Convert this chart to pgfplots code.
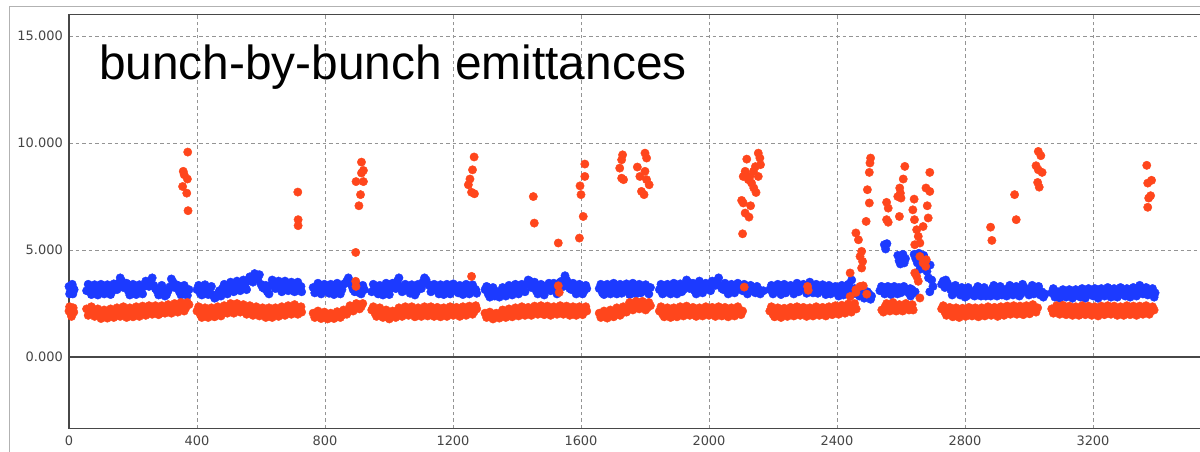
\documentclass[border=0pt]{standalone}
\usepackage{pgfplots}
\pgfplotsset{compat=1.18}
\usepackage{fontspec}
\setmainfont{DejaVu Sans}
\newfontfamily\titlefont{Liberation Sans}
\definecolor{bunchblue}{RGB}{28,58,255}
\definecolor{bunchred}{RGB}{255,70,28}
\definecolor{ticktext}{RGB}{68,68,68}
\definecolor{framegray}{RGB}{178,178,178}
\begin{document}
\begin{tikzpicture}
\begin{axis}[
  name=main,
  at={(0,0)}, anchor=south west,
  scale only axis,
  width=1139.2bp, height=413.6bp,
  xmin=0, xmax=3560, ymin=-3.33, ymax=16.0,
  axis line style={draw=black!72, line width=1.3bp},
  major tick length=0pt,
  xtick={0,400,800,1200,1600,2000,2400,2800,3200},
  xticklabels={0,400,800,1200,1600,2000,2400,2800,3200},
  ytick={5,10,15},
  yticklabels={5.000,10.000,15.000},
  extra y ticks={0},
  extra y tick labels={0.000},
  extra y tick style={grid=major, major grid style={solid, draw=black!72, line width=1.2bp}},
  grid=major,
  major grid style={draw=black!42, line width=0.9bp, dash pattern=on 3.5bp off 3bp},
  ticklabel style={font=\fontsize{13}{13}\selectfont, text=ticktext},
  xticklabel style={yshift=-4bp},
  yticklabel style={xshift=-2.7bp},
  every axis plot/.append style={only marks, mark=*, mark size=4.2bp},
]
% vertical emittance, bunch by bunch
\addplot[mark options={draw=bunchblue, fill=bunchblue}] coordinates {
(0,3.30) (4,3.05) (8,3.25) (12,2.95) (16,3.15) (2,2.95) (10,3.40) (14,3.20)
(55,3.10) (65,3.25) (75,2.98) (85,3.20) (95,3.05) (105,3.28) (115,3.00) (125,3.22) (135,3.08) (145,3.30)
(155,3.45) (165,3.55) (175,3.30) (185,3.10) (195,3.25) (205,2.98) (215,3.18) (225,3.05) (235,3.30) (245,3.45)
(255,3.55) (265,3.35) (275,3.10) (285,2.95) (295,3.15) (305,2.92) (315,3.28) (325,3.50) (335,3.38) (345,3.05)
(355,3.20) (365,2.95) (375,3.15)
(60,3.40) (70,2.92) (80,3.38) (90,2.90) (100,3.40) (110,2.95) (120,3.38) (130,2.92) (140,3.42) (150,3.15)
(160,3.70) (170,3.25) (180,3.45) (190,2.90) (200,3.40) (210,2.92) (220,3.38) (230,2.95) (240,3.55) (250,3.30)
(260,3.70) (270,3.20) (280,2.90) (290,3.35) (300,2.85) (310,3.10) (320,3.65) (330,3.25) (340,3.35) (350,2.90)
(360,3.35) (370,2.88)
(400,3.15) (410,2.98) (420,3.20) (430,3.05) (440,3.18) (450,2.90) (460,2.80) (470,3.10) (480,3.22) (490,3.08)
(500,3.30) (510,3.15) (520,3.38) (530,3.22) (540,3.45) (550,3.30) (560,3.55) (570,3.70) (580,3.90) (590,3.65)
(600,3.40) (610,3.20) (620,3.05) (630,3.35) (640,3.50) (650,3.25) (660,3.40) (670,3.15) (680,3.45) (690,3.30)
(700,3.10) (710,3.35) (720,3.20) (727,3.05)
(405,3.35) (415,2.90) (425,3.38) (435,2.92) (445,3.30) (455,2.75) (465,2.95) (475,2.85) (485,3.40) (495,2.95)
(505,3.50) (515,3.05) (525,3.55) (535,3.10) (545,3.60) (555,3.15) (565,3.75) (575,3.50) (585,3.75) (595,3.85)
(605,3.25) (615,3.35) (625,2.95) (635,3.60) (645,3.20) (655,3.55) (665,3.05) (675,3.55) (685,3.10) (695,3.50)
(705,3.05) (715,3.50) (725,3.30)
(763,3.25) (773,3.05) (783,3.30) (793,3.10) (803,3.20) (813,2.98) (823,3.25) (833,3.05) (843,3.30) (853,3.15)
(863,3.45) (873,3.70) (883,3.35) (893,3.05) (903,3.25) (913,2.95) (923,3.15)
(768,3.00) (778,3.45) (788,2.95) (798,3.40) (808,3.05) (818,3.40) (828,2.92) (838,3.45) (848,2.95) (858,3.40)
(868,3.55) (878,3.50) (888,3.15) (898,3.40) (908,3.00) (918,3.35)
(946,3.05) (956,3.25) (966,2.95) (976,3.15) (986,3.30) (996,3.05) (1006,3.20) (1016,3.35) (1026,3.55) (1036,3.30)
(1046,3.10) (1056,3.25) (1066,2.98) (1076,3.20) (1086,3.05) (1096,3.30) (1106,3.50) (1116,3.60) (1126,3.35) (1136,3.15)
(1146,3.25) (1156,2.95) (1166,3.20) (1176,3.05) (1186,3.30) (1196,3.10) (1206,3.25) (1216,3.00) (1226,3.20) (1236,3.05)
(1246,3.28) (1256,3.10) (1266,3.20) (1274,2.98)
(951,3.40) (961,3.05) (971,3.35) (981,2.90) (991,3.45) (1001,2.92) (1011,3.45) (1021,3.20) (1031,3.70) (1041,3.05)
(1051,3.40) (1061,3.15) (1071,3.38) (1081,2.90) (1091,3.40) (1101,3.20) (1111,3.70) (1121,3.40) (1131,3.05) (1141,3.40)
(1151,3.10) (1161,3.38) (1171,2.92) (1181,3.40) (1191,2.95) (1201,3.42) (1211,3.10) (1221,3.35) (1231,2.92) (1241,3.40)
(1251,2.95) (1261,3.38) (1271,3.15)
(1300,3.15) (1310,2.95) (1320,3.10) (1330,2.85) (1340,3.05) (1350,2.90) (1360,3.15) (1370,2.98) (1380,3.20) (1390,3.05)
(1400,3.30) (1410,3.10) (1420,3.25) (1430,3.40) (1440,3.55) (1450,3.35) (1460,3.10) (1470,3.25) (1480,3.00) (1490,3.20)
(1500,3.45) (1510,3.30) (1520,3.10) (1530,3.35) (1540,3.55) (1550,3.80) (1560,3.45) (1570,3.15) (1580,3.30) (1590,3.05)
(1600,3.25) (1610,3.10) (1618,3.20)
(1305,3.30) (1315,2.80) (1325,3.25) (1335,3.00) (1345,2.80) (1355,3.25) (1365,2.85) (1375,3.35) (1385,2.90) (1395,3.40)
(1405,2.95) (1415,3.40) (1425,3.05) (1435,3.60) (1445,3.25) (1455,3.50) (1465,2.95) (1475,3.40) (1485,2.90) (1495,3.35)
(1505,3.10) (1515,3.45) (1525,2.95) (1535,3.50) (1545,3.30) (1555,3.60) (1565,3.20) (1575,3.45) (1585,2.95) (1595,3.40)
(1605,2.95) (1615,3.35)
(1657,3.20) (1667,3.00) (1677,3.25) (1687,3.05) (1697,3.30) (1707,3.10) (1717,3.20) (1727,2.98) (1737,3.25) (1747,3.05)
(1757,3.30) (1767,3.10) (1777,3.25) (1787,3.00) (1797,3.20) (1807,3.05) (1817,3.25)
(1662,3.40) (1672,2.92) (1682,3.40) (1692,2.95) (1702,3.45) (1712,2.95) (1722,3.40) (1732,3.15) (1742,3.42) (1752,2.92)
(1762,3.45) (1772,2.95) (1782,3.40) (1792,3.15) (1802,3.38) (1812,2.95)
(1845,3.15) (1855,2.95) (1865,3.20) (1875,3.05) (1885,3.30) (1895,3.10) (1905,3.25) (1915,3.05) (1925,3.35) (1935,3.50)
(1945,3.30) (1955,3.10) (1965,3.25) (1975,3.40) (1985,3.15) (1995,3.30) (2005,3.10) (2015,3.40) (2025,3.55) (2035,3.35)
(2045,3.15) (2055,3.30) (2065,3.05) (2075,3.25) (2085,3.15) (2095,3.35) (2105,3.10) (2115,3.25) (2125,3.05) (2135,3.20)
(2145,3.00) (2155,3.15) (2165,3.05) (2170,3.10)
(1850,3.40) (1860,3.00) (1870,3.40) (1880,2.95) (1890,3.45) (1900,2.95) (1910,3.42) (1920,3.15) (1930,3.60) (1940,3.20)
(1950,3.45) (1960,2.95) (1970,3.55) (1980,3.00) (1990,3.45) (2000,3.20) (2010,3.55) (2020,3.35) (2030,3.70) (2040,3.20)
(2050,3.45) (2060,2.95) (2070,3.40) (2080,3.00) (2090,3.45) (2100,3.20) (2110,3.40) (2120,2.95) (2130,3.35) (2140,3.15)
(2150,3.30) (2160,2.95)
(2190,3.15) (2200,2.95) (2210,3.20) (2220,3.05) (2230,3.25) (2240,3.00) (2250,3.20) (2260,3.10) (2270,3.30) (2280,3.05)
(2290,3.25) (2300,3.15) (2310,3.35) (2320,3.10) (2330,3.20) (2340,2.98) (2350,3.25) (2360,3.05) (2370,3.20) (2380,2.95)
(2390,3.15) (2400,3.00) (2410,3.20) (2420,2.90) (2430,3.10) (2440,3.25) (2446,3.60) (2450,2.95) (2460,3.10) (2470,2.85)
(2480,3.00) (2490,2.80) (2500,2.95) (2508,2.85)
(2195,3.35) (2205,3.05) (2215,3.40) (2225,2.92) (2235,3.40) (2245,3.15) (2255,3.35) (2265,2.95) (2275,3.45) (2285,3.20)
(2295,3.40) (2305,2.98) (2315,3.50) (2325,3.00) (2335,3.40) (2345,3.15) (2355,3.38) (2365,2.92) (2375,3.35) (2385,3.10)
(2395,3.30) (2405,2.85) (2415,3.35) (2425,3.05) (2435,3.40) (2455,3.20) (2465,2.95) (2475,3.10) (2485,2.75) (2495,3.05)
(2505,2.70)
(2534,3.10) (2544,3.25) (2554,3.00) (2564,3.20) (2574,3.05) (2584,3.15) (2594,3.25) (2604,3.05) (2614,3.20) (2624,3.00)
(2630,2.85) (2634,3.15) (2640,3.00) (2644,3.05) (2690,3.05) (2700,3.30)
(2539,3.30) (2549,2.95) (2559,3.30) (2569,2.92) (2579,3.30) (2589,2.95) (2599,3.00) (2609,3.30) (2619,3.10) (2629,3.20)
(2548,5.25) (2552,5.05) (2556,5.30)
(2590,4.75) (2594,4.50) (2598,4.35) (2602,4.65) (2606,4.80) (2610,4.40) (2614,4.60)
(2641,4.80) (2646,4.60) (2651,4.40) (2656,4.85) (2659,4.10) (2661,4.55) (2666,4.20) (2671,4.75) (2676,4.45) (2681,4.00)
(2686,3.70) (2691,4.30) (2696,3.60)
(2727,3.40) (2732,3.55) (2737,3.25) (2745,3.45) (2755,3.15) (2765,3.00) (2775,3.20) (2785,2.90) (2795,3.10) (2805,2.85)
(2815,3.05) (2825,2.90) (2835,3.15) (2845,2.95) (2855,3.10) (2865,2.85) (2875,3.05) (2885,3.20) (2895,2.95) (2905,3.10)
(2915,2.90) (2925,3.15) (2935,2.95) (2945,3.20) (2955,3.00) (2965,3.15) (2975,2.95) (2985,3.25) (2995,3.05) (3005,3.20)
(3015,2.95) (3025,3.10) (3035,2.90) (3045,2.80) (3050,2.95)
(2740,3.60) (2750,3.30) (2760,2.90) (2770,3.35) (2780,3.05) (2790,3.25) (2800,2.80) (2810,3.25) (2820,3.05) (2830,2.85)
(2840,3.30) (2850,2.85) (2860,3.25) (2870,3.00) (2880,2.85) (2890,3.35) (2900,2.85) (2910,3.30) (2920,3.05) (2930,2.85)
(2940,3.35) (2950,2.90) (2960,3.30) (2970,2.85) (2980,3.40) (2990,3.10) (3000,2.90) (3010,3.35) (3020,3.00) (3030,3.30)
(3040,3.05)
(3071,3.00) (3081,2.80) (3091,3.05) (3101,2.85) (3111,3.00) (3121,2.90) (3131,3.05) (3141,2.85) (3151,3.00) (3161,2.80)
(3171,3.05) (3181,2.90) (3191,3.10) (3201,2.85) (3211,3.00) (3221,2.90) (3231,3.10) (3241,2.95) (3251,3.05) (3261,2.85)
(3271,3.10) (3281,2.95) (3291,3.05) (3301,2.85) (3311,3.00) (3321,2.90) (3331,3.15) (3341,2.95) (3351,3.20) (3361,3.05)
(3371,2.90) (3381,3.05) (3391,2.80) (3394,3.00)
(3076,3.20) (3086,2.95) (3096,2.75) (3106,3.15) (3116,2.80) (3126,3.15) (3136,2.75) (3146,3.15) (3156,2.85) (3166,3.20)
(3176,2.75) (3186,3.20) (3196,2.95) (3206,3.20) (3216,2.75) (3226,3.20) (3236,2.85) (3246,3.25) (3256,2.80) (3266,3.20)
(3276,2.80) (3286,3.25) (3296,2.90) (3306,3.20) (3316,2.80) (3326,3.25) (3336,2.85) (3346,3.35) (3356,2.95) (3366,3.25)
(3376,3.10) (3386,3.20)
};
% horizontal emittance, bunch by bunch
\addplot[mark options={draw=bunchred, fill=bunchred}] coordinates {
(0,2.15) (5,2.05) (10,2.20) (15,2.10) (2,2.35) (8,1.90) (13,2.30)
(55,2.25) (65,2.10) (75,2.20) (85,2.00) (95,2.10) (105,1.92) (115,2.05) (125,1.95) (135,2.10) (145,2.00)
(155,2.15) (165,2.05) (175,2.20) (185,1.98) (195,2.10) (205,2.00) (215,2.15) (225,2.05) (235,2.20) (245,2.10)
(255,2.25) (265,2.10) (275,2.20) (285,2.05) (295,2.25) (305,2.15) (315,2.30) (325,2.20) (335,2.35) (345,2.25)
(355,2.40) (365,2.30) (375,2.45)
(60,1.95) (70,2.35) (80,1.90) (90,2.25) (100,1.80) (110,2.20) (120,1.82) (130,2.25) (140,1.85) (150,2.30)
(160,1.90) (170,2.35) (180,1.85) (190,2.30) (200,1.88) (210,2.35) (220,1.90) (230,2.38) (240,1.95) (250,2.40)
(260,2.00) (270,2.40) (280,1.98) (290,2.40) (300,2.05) (310,2.45) (320,2.05) (330,2.50) (340,2.10) (350,2.55)
(360,2.15) (370,2.55)
(400,2.15) (410,2.00) (420,2.10) (430,1.95) (440,2.10) (450,2.00) (460,2.15) (470,2.05) (480,2.20) (490,2.10)
(500,2.30) (510,2.20) (520,2.35) (530,2.25) (540,2.30) (550,2.15) (560,2.25) (570,2.10) (580,2.20) (590,2.05)
(600,2.15) (610,2.00) (620,2.10) (630,1.98) (640,2.12) (650,2.05) (660,2.20) (670,2.08) (680,2.25) (690,2.15)
(700,2.30) (710,2.15) (720,2.25) (727,2.10)
(405,2.35) (415,1.85) (425,2.30) (435,1.85) (445,2.30) (455,1.88) (465,2.35) (475,1.92) (485,2.40) (495,2.05)
(505,2.50) (515,2.05) (525,2.50) (535,2.10) (545,2.45) (555,2.00) (565,2.40) (575,1.95) (585,2.35) (595,1.92)
(605,2.30) (615,1.85) (625,2.30) (635,1.85) (645,2.30) (655,1.90) (665,2.35) (675,1.95) (685,2.40) (695,2.00)
(705,2.45) (715,2.00) (725,2.35)
(763,2.05) (773,1.92) (783,2.05) (793,1.90) (803,2.00) (813,1.85) (823,1.98) (833,1.90) (843,2.05) (853,1.95)
(863,2.10) (873,2.20) (883,2.35) (893,2.25) (903,2.45) (913,2.35)
(768,1.85) (778,2.15) (788,1.80) (798,2.10) (808,1.78) (818,2.05) (828,1.80) (838,2.12) (848,1.85) (858,2.20)
(868,2.00) (878,2.40) (888,2.15) (898,2.50) (908,2.25) (918,2.50)
(946,2.20) (956,2.05) (966,2.15) (976,1.98) (986,2.05) (996,1.85) (1006,1.95) (1016,2.10) (1026,2.00) (1036,2.15)
(1046,2.05) (1056,2.20) (1066,2.10) (1076,2.15) (1086,2.00) (1096,2.10) (1106,2.02) (1116,2.18) (1126,2.08) (1136,2.20)
(1146,2.05) (1156,2.15) (1166,2.00) (1176,2.12) (1186,2.05) (1196,2.20) (1206,2.10) (1216,2.15) (1226,2.02) (1236,2.18)
(1246,2.10) (1256,2.20) (1266,2.12) (1274,2.25)
(951,2.35) (961,1.90) (971,2.30) (981,1.85) (991,2.20) (1001,1.78) (1011,2.15) (1021,1.85) (1031,2.30) (1041,1.90)
(1051,2.35) (1061,1.95) (1071,2.35) (1081,1.88) (1091,2.30) (1101,1.90) (1111,2.35) (1121,1.92) (1131,2.35) (1141,1.90)
(1151,2.32) (1161,1.88) (1171,2.30) (1181,1.90) (1191,2.35) (1201,1.95) (1211,2.32) (1221,1.90) (1231,2.35) (1241,1.95)
(1251,2.38) (1261,2.00) (1271,2.40)
(1300,2.05) (1310,1.90) (1320,2.00) (1330,1.85) (1340,1.98) (1350,2.05) (1360,1.95) (1370,2.10) (1380,2.00) (1390,2.15)
(1400,2.05) (1410,2.20) (1420,2.10) (1430,2.15) (1440,2.05) (1450,2.20) (1460,2.12) (1470,2.25) (1480,2.15) (1490,2.22)
(1500,2.10) (1510,2.20) (1520,2.12) (1530,2.25) (1540,2.15) (1550,2.22) (1560,2.10) (1570,2.20) (1580,2.08) (1590,2.18)
(1600,2.10) (1610,2.22) (1618,2.15)
(1305,1.85) (1315,2.10) (1325,1.78) (1335,2.05) (1345,1.82) (1355,2.20) (1365,1.85) (1375,2.25) (1385,1.88) (1395,2.30)
(1405,1.92) (1415,2.35) (1425,1.95) (1435,2.32) (1445,1.95) (1455,2.38) (1465,2.00) (1475,2.40) (1485,1.98) (1495,2.38)
(1505,1.95) (1515,2.35) (1525,2.00) (1535,2.40) (1545,2.00) (1555,2.38) (1565,1.95) (1575,2.35) (1585,1.95) (1595,2.35)
(1605,1.98) (1615,2.35)
(1657,2.05) (1667,1.92) (1677,2.05) (1687,1.95) (1697,2.10) (1707,2.00) (1717,2.15) (1727,2.05) (1737,2.20) (1747,2.30)
(1757,2.40) (1767,2.30) (1777,2.45) (1787,2.35) (1797,2.45) (1807,2.30) (1817,2.40)
(1662,1.85) (1672,2.15) (1682,1.82) (1692,2.20) (1702,1.88) (1712,2.30) (1722,1.95) (1732,2.35) (1742,2.10) (1752,2.55)
(1762,2.20) (1772,2.60) (1782,2.25) (1792,2.60) (1802,2.20) (1812,2.55)
(1845,2.15) (1855,2.00) (1865,2.10) (1875,1.95) (1885,2.10) (1895,2.00) (1905,2.18) (1915,2.05) (1925,2.20) (1935,2.10)
(1945,2.15) (1955,2.00) (1965,2.12) (1975,2.05) (1985,2.20) (1995,2.10) (2005,2.15) (2015,2.02) (2025,2.18) (2035,2.08)
(2045,2.15) (2055,2.00) (2065,2.12) (2075,2.05) (2085,2.20) (2095,2.10) (2105,2.15)
(1850,2.35) (1860,1.88) (1870,2.30) (1880,1.85) (1890,2.30) (1900,1.88) (1910,2.35) (1920,1.92) (1930,2.38) (1940,1.95)
(1950,2.32) (1960,1.90) (1970,2.30) (1980,1.92) (1990,2.35) (2000,1.95) (2010,2.32) (2020,1.90) (2030,2.35) (2040,1.92)
(2050,2.32) (2060,1.88) (2070,2.30) (2080,1.92) (2090,2.35) (2100,1.98)
(2190,2.15) (2200,2.00) (2210,2.10) (2220,1.95) (2230,2.10) (2240,2.02) (2250,2.15) (2260,2.05) (2270,2.20) (2280,2.08)
(2290,2.15) (2300,2.00) (2310,2.12) (2320,2.05) (2330,2.20) (2340,2.10) (2350,2.15) (2360,2.02) (2370,2.18) (2380,2.08)
(2390,2.20) (2400,2.10) (2410,2.25) (2420,2.15) (2430,2.30) (2440,2.20) (2450,2.35) (2460,2.25)
(2195,2.35) (2205,1.88) (2215,2.30) (2225,1.85) (2235,2.28) (2245,1.90) (2255,2.32) (2265,1.92) (2275,2.35) (2285,1.95)
(2295,2.32) (2305,1.90) (2315,2.30) (2325,1.92) (2335,2.35) (2345,1.95) (2355,2.32) (2365,1.92) (2375,2.35) (2385,1.98)
(2395,2.40) (2405,2.00) (2415,2.42) (2425,2.05) (2435,2.48) (2445,2.10) (2455,2.50)
(2540,2.20) (2550,2.35) (2560,2.25) (2570,2.40) (2580,2.30) (2590,2.20) (2600,2.35) (2610,2.25) (2620,2.40) (2630,2.30)
(2638,2.20)
(2545,2.10) (2555,2.50) (2565,2.15) (2575,2.55) (2585,2.15) (2595,2.45) (2605,2.15) (2615,2.50) (2625,2.20) (2635,2.45)
(2727,2.25) (2737,2.10) (2747,2.20) (2757,2.00) (2767,2.10) (2777,1.98) (2787,2.12) (2797,2.05) (2807,2.20) (2817,2.08)
(2827,2.15) (2837,2.00) (2847,2.12) (2857,2.05) (2867,2.20) (2877,2.10) (2887,2.15) (2897,2.02) (2907,2.18) (2917,2.08)
(2927,2.20) (2937,2.12) (2947,2.25) (2957,2.15) (2967,2.22) (2977,2.10) (2987,2.25) (2997,2.15) (3007,2.30) (3017,2.20)
(3027,2.30)
(2732,2.40) (2742,1.95) (2752,2.32) (2762,1.88) (2772,2.30) (2782,1.85) (2792,2.28) (2802,1.90) (2812,2.32) (2822,1.92)
(2832,2.30) (2842,1.88) (2852,2.30) (2862,1.92) (2872,2.35) (2882,1.95) (2892,2.32) (2902,1.90) (2912,2.35) (2922,1.95)
(2932,2.38) (2942,2.00) (2952,2.40) (2962,2.00) (2972,2.38) (2982,1.98) (2992,2.40) (3002,2.02) (3012,2.45) (3022,2.10)
(3071,2.25) (3081,2.10) (3091,2.30) (3101,2.15) (3111,2.25) (3121,2.10) (3131,2.20) (3141,2.05) (3151,2.20) (3161,2.10)
(3171,2.25) (3181,2.12) (3191,2.20) (3201,2.05) (3211,2.15) (3221,2.08) (3231,2.22) (3241,2.12) (3251,2.25) (3261,2.15)
(3271,2.20) (3281,2.05) (3291,2.18) (3301,2.10) (3311,2.25) (3321,2.12) (3331,2.20) (3341,2.08) (3351,2.22) (3361,2.12)
(3371,2.25) (3381,2.15) (3391,2.20)
(3076,2.05) (3086,2.40) (3096,2.00) (3106,2.42) (3116,1.98) (3126,2.38) (3136,1.95) (3146,2.35) (3156,1.95) (3166,2.40)
(3176,1.98) (3186,2.38) (3196,1.95) (3206,2.35) (3216,1.92) (3226,2.38) (3236,1.98) (3246,2.40) (3256,2.00) (3266,2.38)
(3276,1.95) (3286,2.35) (3296,1.95) (3306,2.40) (3316,1.98) (3326,2.38) (3336,1.95) (3346,2.38) (3356,2.00) (3366,2.40)
(3376,2.00) (3386,2.35)
(371,9.58) (357,8.68) (360,8.52) (370,8.32) (355,7.97) (368,7.66) (372,6.84)
(715,7.71) (716,6.42) (716,6.14)
(914,9.11) (920,8.72) (914,8.60) (897,8.20) (920,8.20) (911,7.59) (906,7.07) (896,4.89) (896,3.54) (897,3.30)
(1266,9.35) (1261,8.75) (1253,8.32) (1248,8.05) (1258,7.70) (1267,7.63) (1258,3.77)
(1451,7.50) (1454,6.26) (1529,5.33) (1529,3.33) (1532,3.02)
(1595,5.56) (1607,6.57) (1600,7.59) (1597,8.00) (1612,8.44) (1612,9.02)
(1730,9.45) (1727,9.22) (1721,8.83) (1727,8.36) (1733,8.29)
(1800,9.53) (1805,9.30) (1776,8.88) (1800,8.68) (1784,8.44) (1805,8.29) (1813,8.05) (1789,7.74) (1797,7.59)
(2154,9.53) (2159,9.30) (2118,9.25) (2161,8.99) (2145,8.90) (2139,8.68) (2113,8.68) (2107,8.44) (2128,8.44) (2123,8.29)
(2154,8.44) (2133,8.13) (2140,7.90) (2147,7.69) (2102,7.32) (2107,7.20) (2130,7.07) (2113,6.73) (2125,6.54) (2105,5.76)
(2110,3.27)
(2308,3.30) (2310,3.12)
(2441,3.93) (2459,5.80) (2467,5.48) (2477,4.94) (2472,4.70) (2480,4.47) (2477,4.16) (2472,3.30) (2459,3.02) (2482,3.33)
(2493,2.94) (2491,6.34) (2501,7.20) (2495,7.82) (2501,8.63) (2503,9.07) (2505,9.30) (2441,2.83) (2459,3.15)
(2612,8.91) (2607,8.32) (2596,7.90) (2598,7.66) (2600,7.43) (2590,7.50) (2555,7.23) (2560,6.96) (2555,6.42) (2560,6.30)
(2595,6.57) (2641,7.38) (2637,6.88) (2642,6.42) (2649,5.95) (2654,5.64) (2643,5.25) (2659,5.33) (2669,6.10) (2685,6.50)
(2682,7.07) (2678,7.90) (2690,7.74) (2690,8.63) (2659,4.70) (2669,4.40) (2643,3.93) (2649,3.77) (2654,3.54) (2659,2.76)
(2679,4.55) (2677,4.24)
(2880,6.07) (2884,5.45) (2955,7.59) (2960,6.42)
(3029,9.61) (3037,9.41) (3022,8.94) (3029,8.75) (3041,8.63) (3027,8.16) (3032,7.94)
(3368,8.96) (3383,8.26) (3371,8.13) (3380,7.54) (3374,7.43) (3371,7.00)
};
\end{axis}
% chart title set inside the plot area
\node[anchor=base west, inner sep=0pt, font=\titlefont\fontsize{48}{48}\selectfont]
  at (30bp,348.3bp) {bunch-by-bunch emittances};
% outer panel frame
\draw[framegray, line width=1bp] (-59.7bp,-23.7bp) -- (-59.7bp,422bp) -- (1131bp,422bp);
\pgfresetboundingbox
\path[use as bounding box] (-69bp,-23.7bp) rectangle (1131bp,428.3bp);
\end{tikzpicture}
\end{document}
